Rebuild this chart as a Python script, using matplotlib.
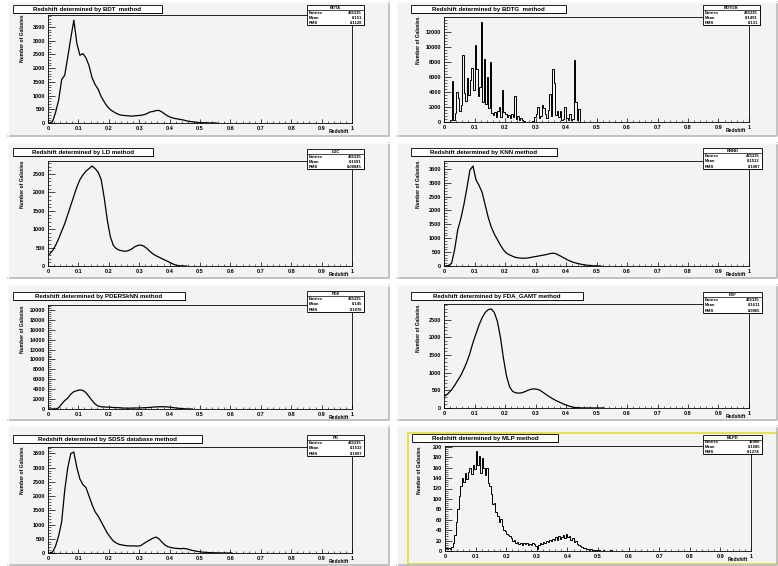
import numpy as np
import matplotlib
matplotlib.use('Agg')
import matplotlib.pyplot as plt
from matplotlib.patches import Rectangle
from matplotlib.ticker import MultipleLocator, FuncFormatter

W, H = 778, 566

# histogram contents (bins start at z=0)
bdt_counts = [0, 50, 390, 830, 1590, 1740, 2400, 3100, 3750, 2900,
              2470, 2530, 2370, 2090, 1650, 1400, 1230, 960, 770, 600,
              490, 415, 350, 300, 280, 270, 260, 250, 260, 270,
              280, 300, 340, 400, 420, 450, 460, 400, 320, 250,
              200, 170, 150, 130, 110, 80, 60, 45, 30, 20,
              12, 8, 5, 3, 2, 1]
bdtg_counts = [0, 0, 0, 0, 300, 5500, 200, 1200, 4000, 3200,
               1500, 2200, 8900, 3800, 2800, 5900, 3600, 5600, 7200, 4200,
               10200, 7100, 3500, 4600, 13300, 2600, 8400, 2400, 6000, 1800,
               8000, 1200, 900, 1300, 600, 1500, 2000, 700, 4200, 1300,
               1100, 600, 900, 500, 1100, 700, 3400, 400, 800, 300,
               500, 200, 100, 50, 0, 0, 0, 0, 100, 600,
               1000, 2000, 500, 800, 2300, 1800, 1000, 500, 1600, 3700,
               800, 7100, 5200, 900, 1400, 600, 1500, 300, 400, 2000,
               500, 200, 1100, 300, 400, 8200, 2700, 300, 1700, 0]
ld_counts = [320, 420, 560, 740, 950, 1150, 1400, 1650, 1900, 2150,
             2350, 2480, 2580, 2650, 2720, 2650, 2550, 2350, 1850, 1250,
             800, 560, 470, 430, 410, 400, 420, 460, 520, 560,
             570, 540, 480, 400, 330, 280, 240, 200, 160, 120,
             80, 40, 15, 5, 2, 0]
knn_counts = [0, 20, 100, 600, 1300, 1700, 2200, 2800, 3450, 3600,
              3100, 2900, 2650, 2200, 1750, 1400, 1150, 950, 750, 580,
              460, 400, 350, 310, 290, 280, 280, 290, 310, 330,
              350, 370, 390, 410, 440, 460, 450, 400, 340, 280,
              220, 170, 130, 100, 75, 50, 35, 20, 10, 5, 2, 0]
pders_counts = [0, 0, 0, 250, 1000, 1700, 2200, 3000, 3500, 3700,
                3850, 3750, 3300, 2500, 1700, 1000, 600, 450, 400, 380,
                350, 300, 280, 250, 200, 180, 170, 180, 200, 200,
                220, 250, 280, 320, 380, 420, 450, 460, 450, 400,
                330, 250, 180, 120, 60, 20, 5, 0]
fda_counts = [350, 420, 520, 640, 780, 920, 1100, 1300, 1550, 1850,
              2100, 2350, 2550, 2700, 2780, 2800, 2700, 2450, 2000, 1400,
              900, 600, 470, 430, 420, 430, 460, 500, 530, 540,
              530, 500, 440, 380, 320, 270, 220, 180, 140, 100,
              70, 40, 20, 10, 5, 3, 2, 2, 1, 1, 1, 1, 0]
sdss_counts = [0, 30, 250, 600, 1100, 2200, 3000, 3500, 3550, 3000,
               2600, 2400, 2300, 2000, 1700, 1450, 1300, 1100, 900, 700,
               550, 420, 350, 300, 280, 260, 250, 250, 250, 240,
               260, 330, 400, 460, 520, 560, 500, 380, 280, 220,
               190, 170, 160, 150, 160, 150, 120, 90, 70, 50,
               35, 25, 18, 12, 8, 6, 4, 3, 2, 1, 0]
mlp_counts = [5, 3, 6, 4, 8, 15, 30, 55, 80, 105,
              125, 140, 132, 150, 138, 152, 160, 148, 165, 158,
              192, 165, 182, 150, 178, 160, 145, 160, 130, 125,
              110, 90, 92, 75, 68, 55, 62, 48, 40, 38,
              33, 30, 28, 25, 20, 22, 15, 18, 14, 16,
              12, 15, 13, 16, 12, 14, 11, 15, 13, 10,
              4, 12, 16, 14, 18, 15, 20, 17, 22, 19,
              24, 21, 26, 22, 28, 24, 27, 30, 25, 32,
              26, 28, 22, 25, 18, 20, 14, 12, 9, 8,
              6, 5, 3, 4, 2, 3, 1, 2, 1, 1,
              1, 0, 0, 1, 0, 0, 0, 0, 1, 0]

titles = ['Redshift determined by BDT  method', 'Redshift determined by BDTG  method',
          'Redshift determined by LD method', 'Redshift determined by KNN method',
          'Redshift determined by PDERSkNN method', 'Redshift determined by FDA_GAMT method',
          'Redshift determined by SDSS database method', 'Redshift determined by MLP method']
stat_names = ['BDTA', 'BDTGB', 'LDC', 'KNND', 'PDE', 'FDF', 'PG', 'MLPD']
stat_entries = ['435335', '435335', '435335', '435335', '435335', '435335', '435335', '16900']
stat_means = ['0.151', '0.1491', '0.1591', '0.1512', '0.145', '0.1611', '0.1532', '0.1585']
stat_rms = ['0.1128', '0.131', '0.08845', '0.1087', '0.1076', '0.0865', '0.1097', '0.1274']

all_counts = [bdt_counts, bdtg_counts, ld_counts, knn_counts,
              pders_counts, fda_counts, sdss_counts, mlp_counts]
bin_widths = [0.01, 0.005, 0.01, 0.01, 0.01, 0.01, 0.01, 0.005]
as_steps = [False, True, False, False, False, False, False, True]
y_steps = [500, 2000, 500, 500, 2000, 500, 500, 20]
y_tops = [None, None, None, None, 21000, None, None, None]

# layout in pixels: axes frame, title box, stats box, pad (x0, y0, x1, y1)
ax_px = [(48, 15, 352, 123), (444, 17, 749, 122),
         (48, 161, 352, 266), (444, 161, 749, 266),
         (48, 305, 352, 409), (444, 304, 749, 408),
         (48, 447, 352, 553), (445, 446, 751, 551)]
title_px = [(13, 5, 162, 13), (411, 5, 566, 13),
            (13, 148, 153, 156), (411, 148, 557, 156),
            (13, 292, 185, 300), (411, 292, 583, 300),
            (13, 435, 202, 443), (412, 434, 558, 442)]
stats_px = [(307, 5, 364, 25), (703, 5, 760, 25),
            (307, 149, 364, 169), (703, 148, 762, 169),
            (307, 291, 364, 312), (703, 292, 762, 313),
            (307, 435, 364, 456), (703, 435, 762, 454)]
pad_px = [(8, 2, 389, 136), (397, 2, 777, 136),
          (8, 143, 389, 278), (397, 143, 777, 278),
          (8, 285, 389, 420), (397, 285, 777, 420),
          (8, 426, 389, 565), (397, 426, 777, 565)]

FONT = 'Liberation Sans'


def frac(r):
    x0, y0, x1, y1 = r
    return [x0 / W, 1 - y1 / H, (x1 - x0) / W, (y1 - y0) / H]


def xfmt(v, pos):
    if abs(v) < 1e-9:
        return '0'
    if abs(v - 1) < 1e-9:
        return '1'
    return '%.1f' % v


fig = plt.figure(figsize=(W / 100, H / 100), dpi=100, facecolor='white')

bg = fig.add_axes([0, 0, 1, 1])
bg.set_xlim(0, W)
bg.set_ylim(H, 0)
bg.axis('off')
bg.set_zorder(0)

ov = fig.add_axes([0, 0, 1, 1])
ov.set_xlim(0, W)
ov.set_ylim(H, 0)
ov.axis('off')
ov.set_zorder(10)

for i in range(8):
    # pad
    x0, y0, x1, y1 = pad_px[i]
    bg.add_patch(Rectangle((x0, y0), x1 - x0, y1 - y0, facecolor='#f3f3f3', edgecolor='none'))
    bg.plot([x0, x1, x1], [y1, y1, y0], color='#b8b8b8', lw=1.2)
    bg.plot([x0, x0, x1], [y1, y0, y0], color='#fbfbfb', lw=1.0)
    if i == 7:
        bg.add_patch(Rectangle((408, 433), W - 408, 564 - 433, facecolor='none',
                               edgecolor='#e4e040', lw=1.3))

    counts = np.array(all_counts[i], dtype=float)
    bw = bin_widths[i]
    ax = fig.add_axes(frac(ax_px[i]))
    ax.set_zorder(1)
    ax.set_facecolor('none')
    if as_steps[i]:
        edges = np.arange(len(counts) + 1) * bw
        ax.stairs(counts, edges, color='black', lw=0.7, baseline=None)
    else:
        centers = (np.arange(len(counts)) + 0.5) * bw
        ax.plot(centers, counts, color='black', lw=0.9)
    ax.set_xlim(0, 1)
    top = y_tops[i] if y_tops[i] else counts.max() * 1.05
    ax.set_ylim(0, top)
    for s in ax.spines.values():
        s.set_linewidth(0.6)
    ax.xaxis.set_major_locator(MultipleLocator(0.1))
    ax.xaxis.set_minor_locator(MultipleLocator(0.02))
    ax.yaxis.set_major_locator(MultipleLocator(y_steps[i]))
    ax.yaxis.set_minor_locator(MultipleLocator(y_steps[i] / 5))
    ax.xaxis.set_major_formatter(FuncFormatter(xfmt))
    ax.yaxis.set_major_formatter(FuncFormatter(lambda v, p: '%d' % round(v)))
    ax.tick_params(axis='x', which='major', direction='in', length=3, width=0.5,
                   labelsize=4, pad=2)
    ax.tick_params(axis='x', which='minor', direction='in', length=1.5, width=0.4)
    ax.tick_params(axis='y', which='major', direction='in', length=5, width=0.5,
                   labelsize=4, pad=2)
    ax.tick_params(axis='y', which='minor', direction='in', length=2.5, width=0.4)
    for lab in ax.get_xticklabels() + ax.get_yticklabels():
        lab.set_fontfamily(FONT)
        lab.set_fontweight('bold')
    ax.set_xlabel('Redshift', loc='right', fontsize=3.6, fontweight='bold', fontfamily=FONT)
    ax.set_ylabel('Number of Galaxies', loc='top', fontsize=3.6, fontweight='bold', fontfamily=FONT)
    ax.xaxis.set_label_coords(0.99, -0.06)
    ax.yaxis.set_label_coords(-0.075, 1.0)

    # title box
    x0, y0, x1, y1 = title_px[i]
    ov.add_patch(Rectangle((x0 + 1.2, y0 + 1.2), x1 - x0, y1 - y0, facecolor='black', edgecolor='none'))
    ov.add_patch(Rectangle((x0, y0), x1 - x0, y1 - y0, facecolor='white', edgecolor='black', lw=0.6))
    ov.text((x0 + x1) / 2, (y0 + y1) / 2 + 0.3, titles[i], ha='center', va='center',
            fontsize=4.4, fontweight='bold', fontfamily=FONT)

    # stats box
    x0, y0, x1, y1 = stats_px[i]
    h = (y1 - y0) / 4.0
    ov.add_patch(Rectangle((x0 + 1.2, y0 + 1.2), x1 - x0, y1 - y0, facecolor='black', edgecolor='none'))
    ov.add_patch(Rectangle((x0, y0), x1 - x0, y1 - y0, facecolor='white', edgecolor='black', lw=0.6))
    ov.plot([x0, x1], [y0 + h, y0 + h], color='black', lw=0.5)
    ov.text((x0 + x1) / 2, y0 + h * 0.55, stat_names[i], ha='center', va='center',
            fontsize=3.0, fontweight='bold', fontfamily=FONT)
    rows = [('Entries', stat_entries[i]), ('Mean', stat_means[i]), ('RMS', stat_rms[i])]
    for k, (lbl, val) in enumerate(rows):
        yy = y0 + h * (k + 1.55)
        ov.text(x0 + 2, yy, lbl, ha='left', va='center', fontsize=3.0,
                fontweight='bold', fontfamily=FONT)
        ov.text(x1 - 2, yy, val, ha='right', va='center', fontsize=3.0,
                fontweight='bold', fontfamily=FONT)

fig.savefig('out.png', dpi=100, facecolor=fig.get_facecolor())
